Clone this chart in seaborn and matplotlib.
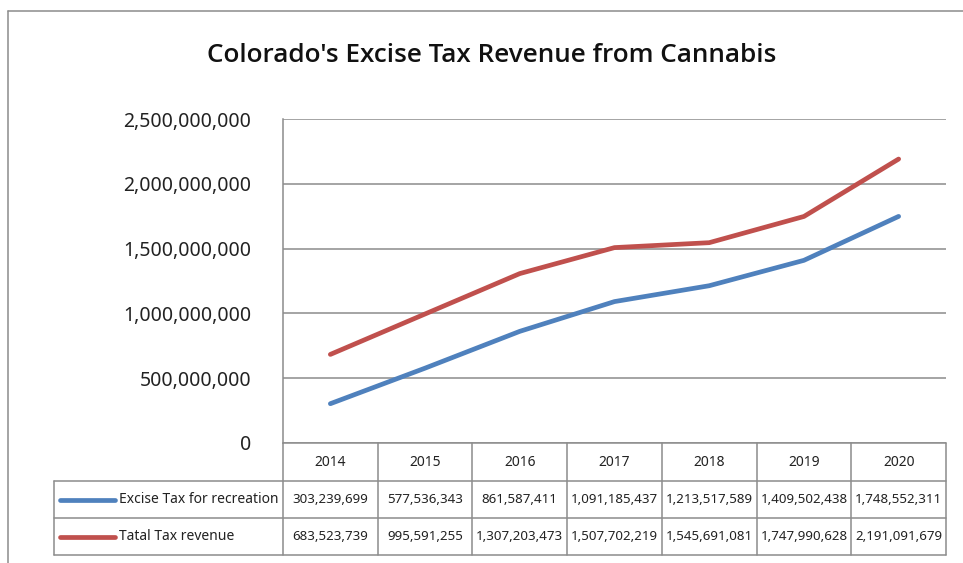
import matplotlib.pyplot as plt
import numpy as np
import pandas as pd
import seaborn as sns
from matplotlib.lines import Line2D
from matplotlib.ticker import FuncFormatter

years = ["2014", "2015", "2016", "2017", "2018", "2019", "2020"]
excise_recreation = [303239699, 577536343, 861587411, 1091185437,
                     1213517589, 1409502438, 1748552311]
total_revenue = [683523739, 995591255, 1307203473, 1507702219,
                 1545691081, 1747990628, 2191091679]
series_names = ["Excise Tax for recreation", "Tatal Tax revenue"]
y_ticks = [0, 500000000, 1000000000, 1500000000, 2000000000, 2500000000]

df = pd.DataFrame({
    "idx": list(range(len(years))) * 2,
    "value": excise_recreation + total_revenue,
    "series": [series_names[0]] * len(years) + [series_names[1]] * len(years),
})

colors = {series_names[0]: "#4F81BD", series_names[1]: "#C0504D"}
grid_c = "#8c8c8c"

sns.set_theme(style="white")
plt.rcParams["font.family"] = ["Noto Sans", "DejaVu Sans"]

W, H = 963, 563
fig = plt.figure(figsize=(W / 100, H / 100), dpi=100)
ax = fig.add_axes([283 / W, 1 - 443 / H, (946 - 283) / W, (443 - 119) / H])

sns.lineplot(data=df, x="idx", y="value", hue="series", palette=colors,
             linewidth=3.4, ax=ax, legend=False, solid_capstyle="round")

ax.set_xlim(-0.5, len(years) - 0.5)
ax.set_ylim(y_ticks[0], y_ticks[-1])
ax.set_yticks(y_ticks)
ax.yaxis.set_major_formatter(FuncFormatter(lambda v, p: f"{int(v):,}"))
ax.tick_params(axis="y", length=0, pad=23, labelsize=14, labelcolor="#222222")
ax.set_xticks([])
ax.set_xlabel("")
ax.set_ylabel("")
ax.grid(axis="y", color=grid_c, linewidth=1.1)
for s in ["top", "right", "bottom"]:
    ax.spines[s].set_visible(False)
ax.spines["left"].set_color(grid_c)
ax.spines["left"].set_linewidth(1.1)

# Data table below the plot
xt = ax.get_xaxis_transform()
ta = ax.transAxes
px_w = 946 - 283
px_h = 443 - 119
legend_left = (54 - 283) / px_w
row_edges = [0, (443 - 481) / px_h, (443 - 518) / px_h, (443 - 555) / px_h]
lkw = dict(color=grid_c, linewidth=1.1, clip_on=False)

# horizontal rules
ax.plot([0, 1], [row_edges[0]] * 2, transform=ta, **lkw)
for r in row_edges[1:]:
    ax.plot([legend_left, 1], [r, r], transform=ta, **lkw)
# vertical rules
for i in range(len(years) + 1):
    ax.plot([i - 0.5, i - 0.5], [row_edges[0], row_edges[3]], transform=xt, **lkw)
ax.plot([legend_left] * 2, [row_edges[1], row_edges[3]], transform=ta, **lkw)

# header and values
mid = [(row_edges[k] + row_edges[k + 1]) / 2 for k in range(3)]
for i, yr in enumerate(years):
    ax.text(i, mid[0], yr, transform=xt, ha="center", va="center",
            fontsize=10, color="#222222")
for k, (name, vals) in enumerate(zip(series_names, [excise_recreation, total_revenue])):
    for i, v in enumerate(vals):
        ax.text(i, mid[k + 1], f"{v:,}", transform=xt, ha="center", va="center",
                fontsize=9.6, color="#222222")
    ax.plot([(60 - 283) / px_w, (115 - 283) / px_w], [mid[k + 1]] * 2,
            transform=ta, color=colors[name], linewidth=3.4,
            solid_capstyle="round", clip_on=False)
    ax.text((119 - 283) / px_w, mid[k + 1], name, transform=ta, ha="left",
            va="center", fontsize=10, color="#222222")

# chart frame and title
fig.add_artist(Line2D([8 / W, 8 / W], [0, 1 - 11 / H], color="#8c8c8c", linewidth=1.1))
fig.add_artist(Line2D([8 / W, 1], [1 - 11 / H] * 2, color="#8c8c8c", linewidth=1.1))
fig.text(492 / W, 1 - 55 / H, "Colorado's Excise Tax Revenue from Cannabis",
         ha="center", va="center", fontsize=18.8, fontweight="semibold",
         family=["Open Sans", "DejaVu Sans"], color="#111111")

fig.savefig("out.png", dpi=100, facecolor="white")
